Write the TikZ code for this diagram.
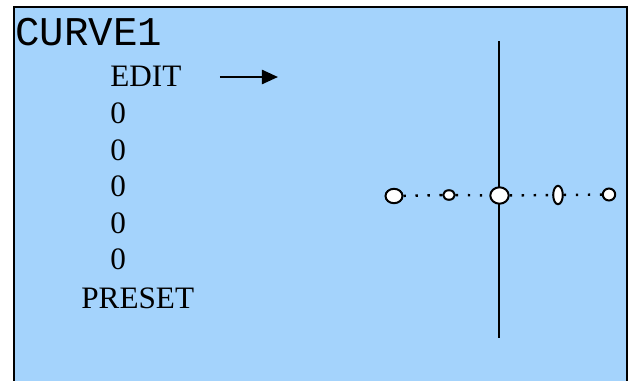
\documentclass[tikz,border=0pt]{standalone}
\usepackage{fontspec}
\setmainfont{Liberation Serif}
\newfontfamily\lcdfont{Liberation Mono}
\usetikzlibrary{shapes.geometric,arrows.meta}
\definecolor{screenblue}{RGB}{164,211,252}

\begin{document}
\begin{tikzpicture}[x=0.5pt,y=-0.5pt,
    menu/.style={inner sep=0pt, anchor=base west, font=\fontsize{15.6}{18}\selectfont},
    title/.style={inner sep=0pt, anchor=base west, font=\lcdfont\fontsize{20.4}{24}\selectfont},
    knot/.style={ellipse, draw, fill=white, line width=1pt, inner sep=0pt},
    dotline/.style={line width=1.2pt, dash pattern=on 1.2pt off 4.8pt}]
    \useasboundingbox (0,0) rectangle (634,381);
    % screen
    \fill[screenblue] (14,7) rectangle (627,400);
    \draw[line width=1pt] (14,400) -- (14,7) -- (627,7) -- (627,400);
    % menu text
    \node[title] (curve) at (15,45) {CURVE1};
    \node[menu] (edit) at (110,86) {EDIT};
    \node[menu] (z1) at (110,123) {0};
    \node[menu] (z2) at (110,160) {0};
    \node[menu] (z3) at (110,196.5) {0};
    \node[menu] (z4) at (110,233) {0};
    \node[menu] (z5) at (110,269) {0};
    \node[menu] (preset) at (81,308) {PRESET};
    % cursor arrow
    \coordinate (atail) at (220,77);
    \coordinate (ahead) at (278,77);
    \draw[line width=1.2pt, -{Triangle[length=8pt,width=7pt]}] (atail) -- (ahead);
    % axis
    \coordinate (vtop) at (499,41);
    \coordinate (vbot) at (499,338);
    \draw[line width=1pt] (vtop) -- (vbot);
    % curve points
    \node[knot, minimum width=8.5pt, minimum height=7.2pt] (k1) at (394,196) {};
    \node[knot, minimum width=5.8pt, minimum height=4.8pt] (k2) at (449,195) {};
    \node[knot, minimum width=9.2pt, minimum height=8.2pt] (k3) at (499.5,195.5) {};
    \node[knot, minimum width=4.8pt, minimum height=9.2pt] (k4) at (558,195) {};
    \node[knot, minimum width=6.2pt, minimum height=6pt] (k5) at (609,194.5) {};
    \draw[dotline] (k1) -- (k2);
    \draw[dotline] (k2) -- (k3);
    \draw[dotline] (k3) -- (k4);
    \draw[dotline] (k4) -- (k5);
\end{tikzpicture}
\end{document}
